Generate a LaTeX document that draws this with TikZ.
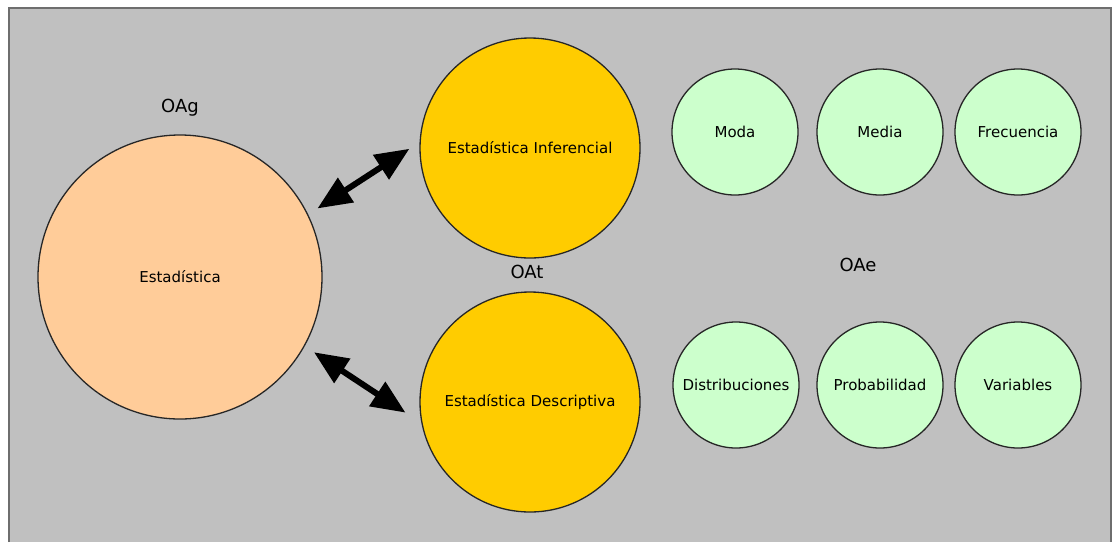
\documentclass[tikz,border=0pt]{standalone}
\usepackage{fontspec}
\setmainfont{DejaVu Sans}
\usetikzlibrary{arrows.meta}
\definecolor{fondo}{HTML}{C0C0C0}
\definecolor{borde}{HTML}{6E6E6E}
\definecolor{durazno}{HTML}{FFCC99}
\definecolor{oro}{HTML}{FFCC00}
\definecolor{verde}{HTML}{CCFFCC}
\begin{document}
\begin{tikzpicture}[x=1pt,y=-1pt,
  circulo/.style={circle,draw=black!85,line width=1.3pt,inner sep=0pt,font=\fontsize{15}{18}\selectfont},
  etiqueta/.style={font=\fontsize{18}{21}\selectfont},
  flecha/.style={{Triangle[length=34pt,width=28pt]}-{Triangle[length=34pt,width=28pt]},line width=6pt}]
\useasboundingbox (0,0) rectangle (1113,542);
\fill[white] (0,0) rectangle (1113,542);
\fill[fondo] (9,8) rectangle (1111,542);
\draw[borde,line width=2pt] (9,542) -- (9,8) -- (1111,8) -- (1111,542);
% objeto general
\node[circulo,fill=durazno,minimum size=284pt] (estad) at (180,277) {Estadística};
\node[etiqueta] (oag) at (180,108) {OAg};
% objetos de tema
\node[circulo,fill=oro,minimum size=220pt] (inf) at (530,148) {Estadística Inferencial};
\node[circulo,fill=oro,minimum size=220pt] (desc) at (530,402) {Estadística Descriptiva};
\node[etiqueta] (oat) at (527,272) {OAt};
% objetos especificos
\foreach \nom/\x/\txt in {moda/735/Moda,media/880/Media,frec/1018/Frecuencia}
  \node[circulo,fill=verde,minimum size=126pt] (\nom) at (\x,132) {\txt};
\foreach \nom/\x/\txt in {dist/736/Distribuciones,prob/880/Probabilidad,var/1018/Variables}
  \node[circulo,fill=verde,minimum size=126pt] (\nom) at (\x,385) {\txt};
\node[etiqueta] (oae) at (858,265) {OAe};
\draw[flecha,shorten <=11pt,shorten >=12pt] (estad.26) -- (inf.177);
\draw[flecha,shorten <=11pt,shorten >=19pt] (estad.-29) -- (desc.191);
\end{tikzpicture}
\end{document}
